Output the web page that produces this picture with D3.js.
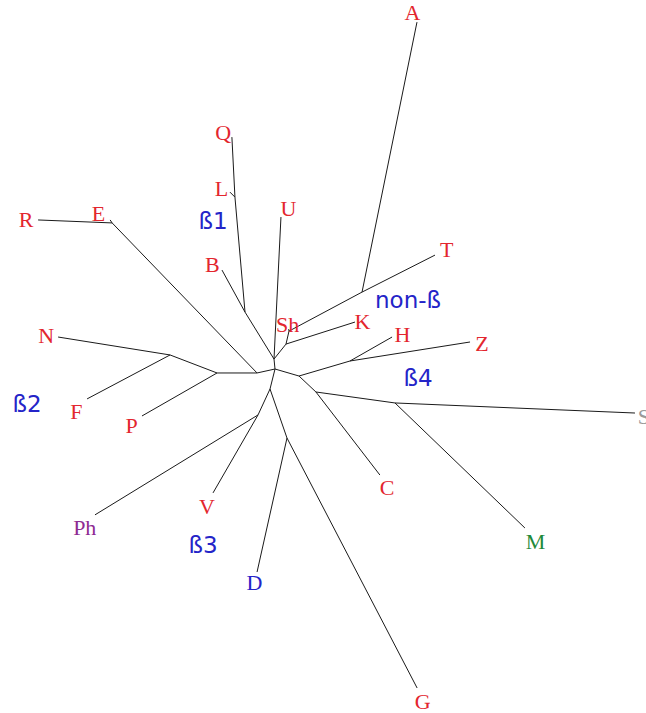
<!DOCTYPE html>
<html lang="en">

<head>
  <title>Unrooted tree</title>
  <meta charset="UTF-8">
  <style>
    html, body { margin: 0; padding: 0; background: #fff; }
    svg { display: block; }
  </style>
</head>

<body>
  <div class="container"></div>
  <script src="https://cdn.jsdelivr.net/npm/d3@7"></script>
  <script>
    // tree: each node, its parent, branch length and branch direction (deg, ccw from east)
    var nodeIds = ["root", "n1", "nBLQ", "B", "nLQ", "L", "Q", "U", "nK", "K", "nSh", "Sh", "nT", "A", "T",
      "nL", "nE", "E", "R", "nNFP", "P", "nNF", "N", "F",
      "nD", "nVPh", "V", "Ph", "nDG", "D", "G",
      "nR", "nHZ", "H", "Z", "nCMS", "C", "nMS", "S", "M"];
    var parentIds = ["", "root", "n1", "nBLQ", "nBLQ", "nLQ", "nLQ", "n1", "n1", "nK", "nK", "nSh", "nSh", "nT", "nT",
      "root", "nL", "nE", "nE", "nL", "nNFP", "nNFP", "nNF", "nNF",
      "root", "nD", "nVPh", "nVPh", "nD", "nDG", "nDG",
      "root", "nR", "nHZ", "nHZ", "nR", "nCMS", "nCMS", "nMS", "nMS"];
    var branchLengths = [0, 0.100, 0.552, 0.479, 1.154, 0.071, 0.601, 1.422, 0.192, 0.724, 0.133, 0.02, 0.828, 2.755, 0.818,
      0.184, 2.086, 0.036, 0.741, 0.400, 0.865, 0.503, 1.134, 0.939,
      0.206, 0.286, 0.900, 1.912, 0.519, 1.373, 2.818,
      0.250, 0.532, 0.484, 1.215, 0.233, 1.048, 0.798, 2.402, 1.803];
    var branchAngles = [0, 95.7, 121.7, 118.7, 95.0, 135, 92.9, 87.2, 51.3, 17.7, 77, 100, 28.1, 78.5, 26.9,
      192.5, 134.0, 124, 177.7, 180, 209.8, 159.0, 170.9, 207.9,
      256, 245.2, 240.0, 211.5, 289.1, 257.4, 297.5,
      343.7, 16.4, 29.7, 9.0, 316.7, 307.6, 352.1, 357.6, 316.1];

    // leaf colour classes
    var blueLeaves = ["D"];
    var purpleLeaves = ["Ph"];
    var greenLeaves = ["M"];
    var greyLeaves = ["S"];

    // clade labels
    var groupNames = ["ß1", "ß2", "ß3", "ß4", "non-ß"];

    // layout
    var width = 646, height = 713;
    var groupPos = [[-0.62, 1.48], [-2.48, -0.35], [-0.72, -1.76], [1.43, -0.09], [1.33, 0.69]];
    // hand nudges (px) for leaf labels that do not sit straight out from the tip
    var nudge = {
      A: [-7, -1], Q: [-8, 4], U: [7, 0], E: [-5, 0], K: [-4, 0], F: [0, 4], N: [0, -3],
      D: [0, -4], Sh: [1, 4], R: [0, -3], Ph: [0, 3], B: [-4, 2], L: [0, 2], M: [2, 2], T: [1, -3],
      S: [-3, 0]
    };

    var x = d3.scaleLinear().domain([0, 1]).range([275, 375]);
    var y = d3.scaleLinear().domain([0, 1]).range([369, 269]);

    var table = nodeIds.map(function (id, i) {
      return { id: id, parent: parentIds[i], len: branchLengths[i], ang: branchAngles[i] };
    });
    var root = d3.stratify().id(function (d) { return d.id; }).parentId(function (d) { return d.parent || null; })(table);

    root.eachBefore(function (n) {
      if (!n.parent) { n.tx = 0; n.ty = 0; return; }
      var a = n.data.ang * Math.PI / 180;
      n.tx = n.parent.tx + n.data.len * Math.cos(a);
      n.ty = n.parent.ty + n.data.len * Math.sin(a);
    });

    var svg = d3.select('.container').append('svg')
      .attr('width', width).attr('height', height);

    svg.append('g').selectAll('line')
      .data(root.links())
      .enter().append('line')
      .attr('x1', function (d) { return x(d.source.tx); })
      .attr('y1', function (d) { return y(d.source.ty); })
      .attr('x2', function (d) { return x(d.target.tx); })
      .attr('y2', function (d) { return y(d.target.ty); })
      .attr('stroke', '#1a1a1a')
      .attr('stroke-width', 1);

    function leafColor(id) {
      if (blueLeaves.indexOf(id) >= 0) return '#2424c8';
      if (purpleLeaves.indexOf(id) >= 0) return '#8e2a92';
      if (greenLeaves.indexOf(id) >= 0) return '#1f8a3a';
      if (greyLeaves.indexOf(id) >= 0) return '#9a9a9a';
      return '#e3262e';
    }

    var off = 12;
    function nd(id, k) { return nudge[id] ? nudge[id][k] : 0; }
    svg.append('g').selectAll('text')
      .data(root.leaves())
      .enter().append('text')
      .attr('x', function (d) { return x(d.tx) + off * Math.cos(d.data.ang * Math.PI / 180) + nd(d.id, 0); })
      .attr('y', function (d) { return y(d.ty) - off * Math.sin(d.data.ang * Math.PI / 180) + 3 + nd(d.id, 1); })
      .attr('dy', '0.35em')
      .attr('text-anchor', 'middle')
      .attr('font-family', '"Liberation Serif", "DejaVu Serif", serif')
      .attr('font-size', 22)
      .attr('fill', function (d) { return leafColor(d.id); })
      .text(function (d) { return d.id; });

    svg.append('g').selectAll('text')
      .data(groupNames)
      .enter().append('text')
      .attr('x', function (d, i) { return x(groupPos[i][0]); })
      .attr('y', function (d, i) { return y(groupPos[i][1]); })
      .attr('dy', '0.35em')
      .attr('text-anchor', 'middle')
      .attr('font-family', '"DejaVu Sans", Verdana, sans-serif')
      .attr('font-size', 23)
      .attr('fill', '#2424c8')
      .text(function (d) { return d; });
  </script>
</body>

</html>
